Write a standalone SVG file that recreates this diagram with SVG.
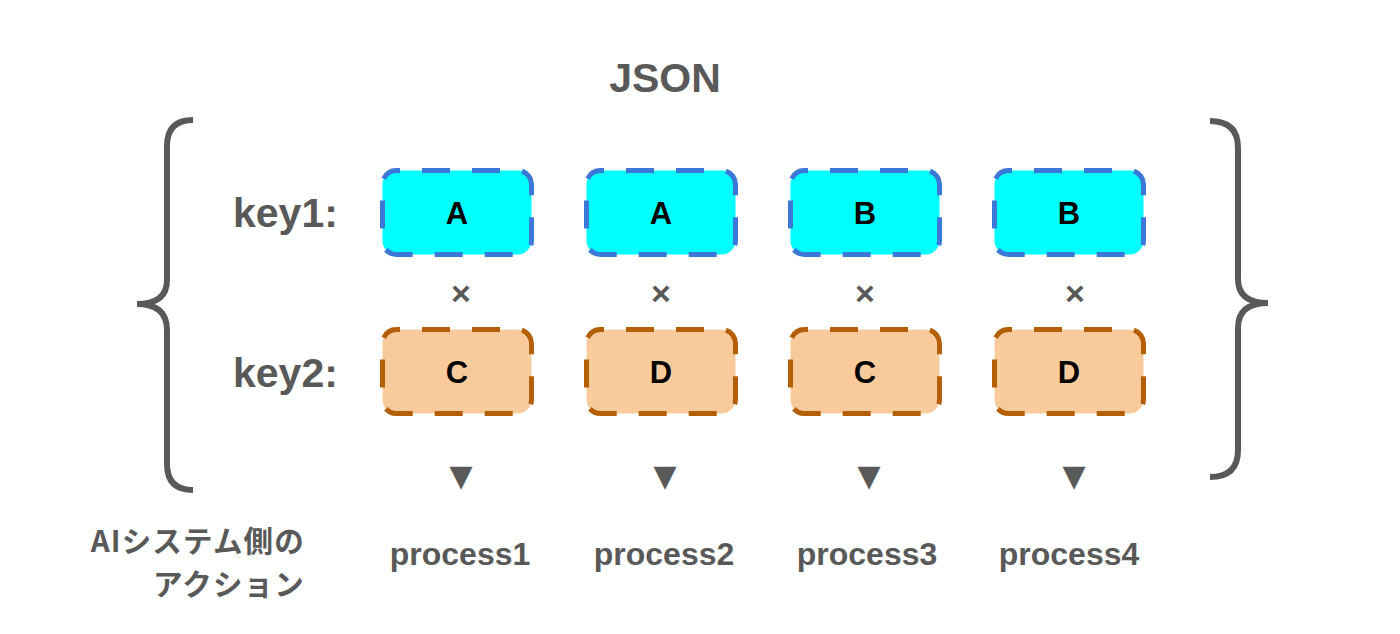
<svg xmlns="http://www.w3.org/2000/svg" width="1400" height="634" viewBox="0 0 1400 634">
<style>
.gray{fill:#595959;font-family:"Liberation Sans",Arial,sans-serif;font-weight:bold}
.key{font-size:41px}
.title{font-size:41px}
.proc{font-size:32px;text-anchor:middle}
.x{font-size:34px;text-anchor:middle}
.tri{fill:#595959;font-family:"DejaVu Sans",sans-serif;font-size:30px;text-anchor:middle}
.jp{fill:#595959;font-family:"Noto Sans CJK JP",sans-serif;font-weight:bold;font-size:29.5px;letter-spacing:1.2px;text-anchor:end}
.box1{fill:#00ffff;stroke:#3c78d8;stroke-width:5;stroke-dasharray:28 22;stroke-dashoffset:24.5}
.box2{fill:#f9cb9c;stroke:#b45f06;stroke-width:5;stroke-dasharray:28 22;stroke-dashoffset:24.5}
.lbl{fill:#000;font-family:"Liberation Sans",Arial,sans-serif;font-weight:bold;font-size:31px;text-anchor:middle}
.brace{fill:none;stroke:#595959;stroke-width:6}
</style>
<rect width="1400" height="634" fill="#fff"/>
<g id="title"><text class="gray title" x="665" y="92" text-anchor="middle">JSON</text></g>
<g id="braces">
<path class="brace" d="M193,120 Q167,120 167,146 L167,280 Q167,304 137,304 Q167,304 167,330 L167,464 Q167,490 193,490"/>
<path class="brace" d="M1210,121 Q1238,121 1238,148 L1238,279 Q1238,303 1268,303 Q1238,303 1238,328 L1238,450 Q1238,477 1210,477"/>
</g>
<g id="keys">
<text class="gray key" x="233" y="227">key1:</text>
<text class="gray key" x="233" y="387">key2:</text>
</g>
<g id="n1a"><rect class="box1" x="382.5" y="170.5" width="149" height="84" rx="14"/><text class="lbl" x="457" y="224">A</text></g>
<g id="n2a"><rect class="box1" x="586.5" y="170.5" width="149" height="84" rx="14"/><text class="lbl" x="661" y="224">A</text></g>
<g id="n3a"><rect class="box1" x="790.5" y="170.5" width="149" height="84" rx="14"/><text class="lbl" x="865" y="224">B</text></g>
<g id="n4a"><rect class="box1" x="994.5" y="170.5" width="149" height="84" rx="14"/><text class="lbl" x="1069" y="224">B</text></g>
<g id="n1b"><rect class="box2" x="382.5" y="329.5" width="149" height="84" rx="14"/><text class="lbl" x="457" y="383">C</text></g>
<g id="n2b"><rect class="box2" x="586.5" y="329.5" width="149" height="84" rx="14"/><text class="lbl" x="661" y="383">D</text></g>
<g id="n3b"><rect class="box2" x="790.5" y="329.5" width="149" height="84" rx="14"/><text class="lbl" x="865" y="383">C</text></g>
<g id="n4b"><rect class="box2" x="994.5" y="329.5" width="149" height="84" rx="14"/><text class="lbl" x="1069" y="383">D</text></g>
<g id="connectors">
<text class="gray x" x="461" y="305">×</text>
<text class="gray x" x="661" y="305">×</text>
<text class="gray x" x="865" y="305">×</text>
<text class="gray x" x="1075" y="305">×</text>
<text class="tri" x="461" y="486">▼</text>
<text class="tri" x="665" y="486">▼</text>
<text class="tri" x="869" y="486">▼</text>
<text class="tri" x="1074" y="486">▼</text>
</g>
<g id="actions">
<text class="jp"><tspan x="305" y="552">AIシステム側の</tspan><tspan x="305" y="595">アクション</tspan></text>
<text class="gray proc" x="460" y="565">process1</text>
<text class="gray proc" x="664" y="565">process2</text>
<text class="gray proc" x="867" y="565">process3</text>
<text class="gray proc" x="1069" y="565">process4</text>
</g>
</svg>
